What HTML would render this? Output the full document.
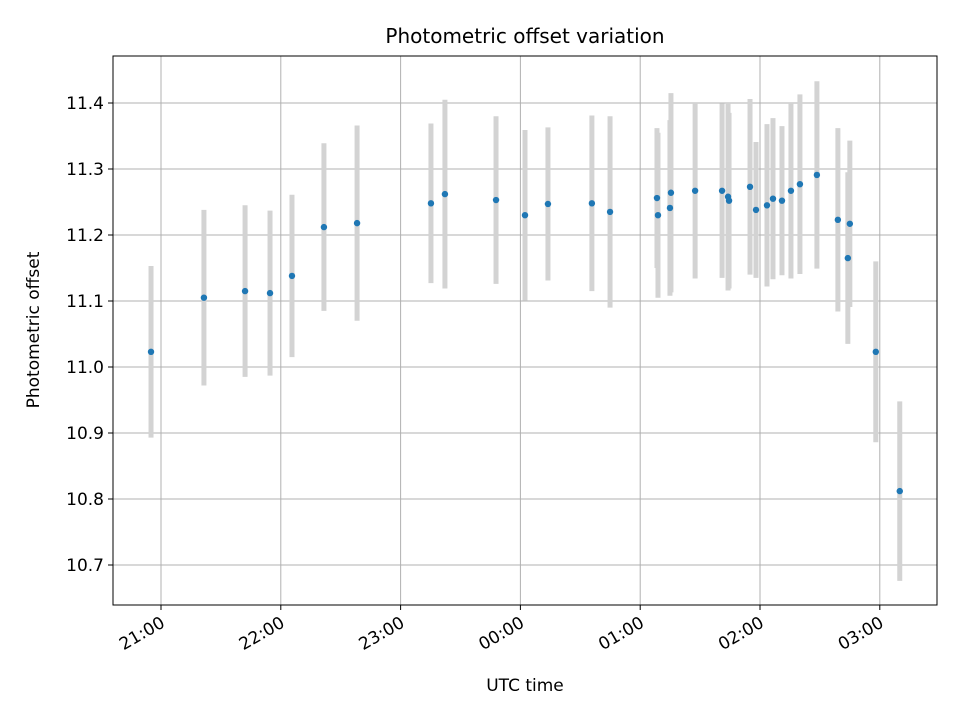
<!DOCTYPE html>
<html><head><meta charset="utf-8"><style>
body{margin:0;background:#fff;}
svg text{font-family:"DejaVu Sans","Liberation Sans",sans-serif;fill:#000;}
</style></head><body>
<svg id="chart" width="960" height="720" xmlns="http://www.w3.org/2000/svg">
<rect width="960" height="720" fill="#fff"/>
<g id="grid"></g>
<g id="bars"></g>
<g id="pts"></g>
<rect x="113" y="56" width="824" height="549" fill="none" stroke="#000" stroke-width="1"/>
<g id="ticks"></g>
<text x="525" y="43" font-size="20" text-anchor="middle">Photometric offset variation</text>
<text x="525" y="691" font-size="17" text-anchor="middle">UTC time</text>
<text transform="translate(39,330) rotate(-90)" font-size="17" text-anchor="middle">Photometric offset</text>
</svg>
<script>
// minutes since 21:00 UTC
const times=[-5,21.5,42.1,54.6,65.6,81.6,98.2,135.2,142.2,167.8,182.3,193.8,215.8,224.9,248.4,248.9,254.9,255.4,267.5,281,284,284.5,295,298,303.5,306.5,311,315.5,320,328.5,339,344,345,358,370];
const values=[11.023,11.105,11.115,11.112,11.138,11.212,11.218,11.248,11.262,11.253,11.23,11.247,11.248,11.235,11.256,11.23,11.241,11.264,11.267,11.267,11.258,11.252,11.273,11.238,11.245,11.255,11.252,11.267,11.277,11.291,11.223,11.165,11.217,11.023,10.812];
const errors=[0.130,0.133,0.130,0.125,0.123,0.127,0.148,0.121,0.143,0.127,0.129,0.116,0.133,0.145,0.106,0.125,0.133,0.151,0.133,0.132,0.142,0.133,0.133,0.103,0.123,0.122,0.113,0.133,0.136,0.142,0.139,0.130,0.126,0.137,0.136];
const yTicks=[10.7,10.8,10.9,11.0,11.1,11.2,11.3,11.4];
const xTickMinutes=[0,60,120,180,240,300,360];
const xTickLabels=["21:00","22:00","23:00","00:00","01:00","02:00","03:00"];
const NS="http://www.w3.org/2000/svg";
const xs=m=>161+m*119.8/60;
const ys=v=>565-(v-10.7)*660;
function mk(tag,attrs,parent){const e=document.createElementNS(NS,tag);for(const k in attrs)e.setAttribute(k,attrs[k]);document.getElementById(parent).appendChild(e);return e;}
yTicks.forEach(v=>{const y=ys(v);
 let g=mk('line',{x1:113,x2:937,y1:y,y2:y,stroke:'#b0b0b0','stroke-width':1},'grid');
 
 let t=mk('line',{x1:108,x2:113,y1:y,y2:y,stroke:'#000'},'ticks');
 
 let l=mk('text',{x:104,y:y+6,'font-size':17,'text-anchor':'end'},'ticks');l.textContent=v.toFixed(1);
 
});
xTickMinutes.forEach((m,i)=>{const x=xs(m);
 let g=mk('line',{x1:x,x2:x,y1:56,y2:605,stroke:'#b0b0b0','stroke-width':1},'grid');
 
 let t=mk('line',{x1:x,x2:x,y1:605,y2:610,stroke:'#000'},'ticks');
 
 let l=mk('text',{'font-size':17,'text-anchor':'end',transform:`translate(${x+5},${626}) rotate(-30)`},'ticks');l.textContent=xTickLabels[i];
 
});
times.forEach((m,i)=>{const x=xs(m);
 let b=mk('line',{x1:x,x2:x,y1:ys(values[i]+errors[i]),y2:ys(values[i]-errors[i]),stroke:'#d3d3d3','stroke-width':5},'bars');
 
 let p=mk('circle',{cx:x,cy:ys(values[i]),r:3.2,fill:'#1f77b4'},'pts');
 
});
</script>
</body></html>
